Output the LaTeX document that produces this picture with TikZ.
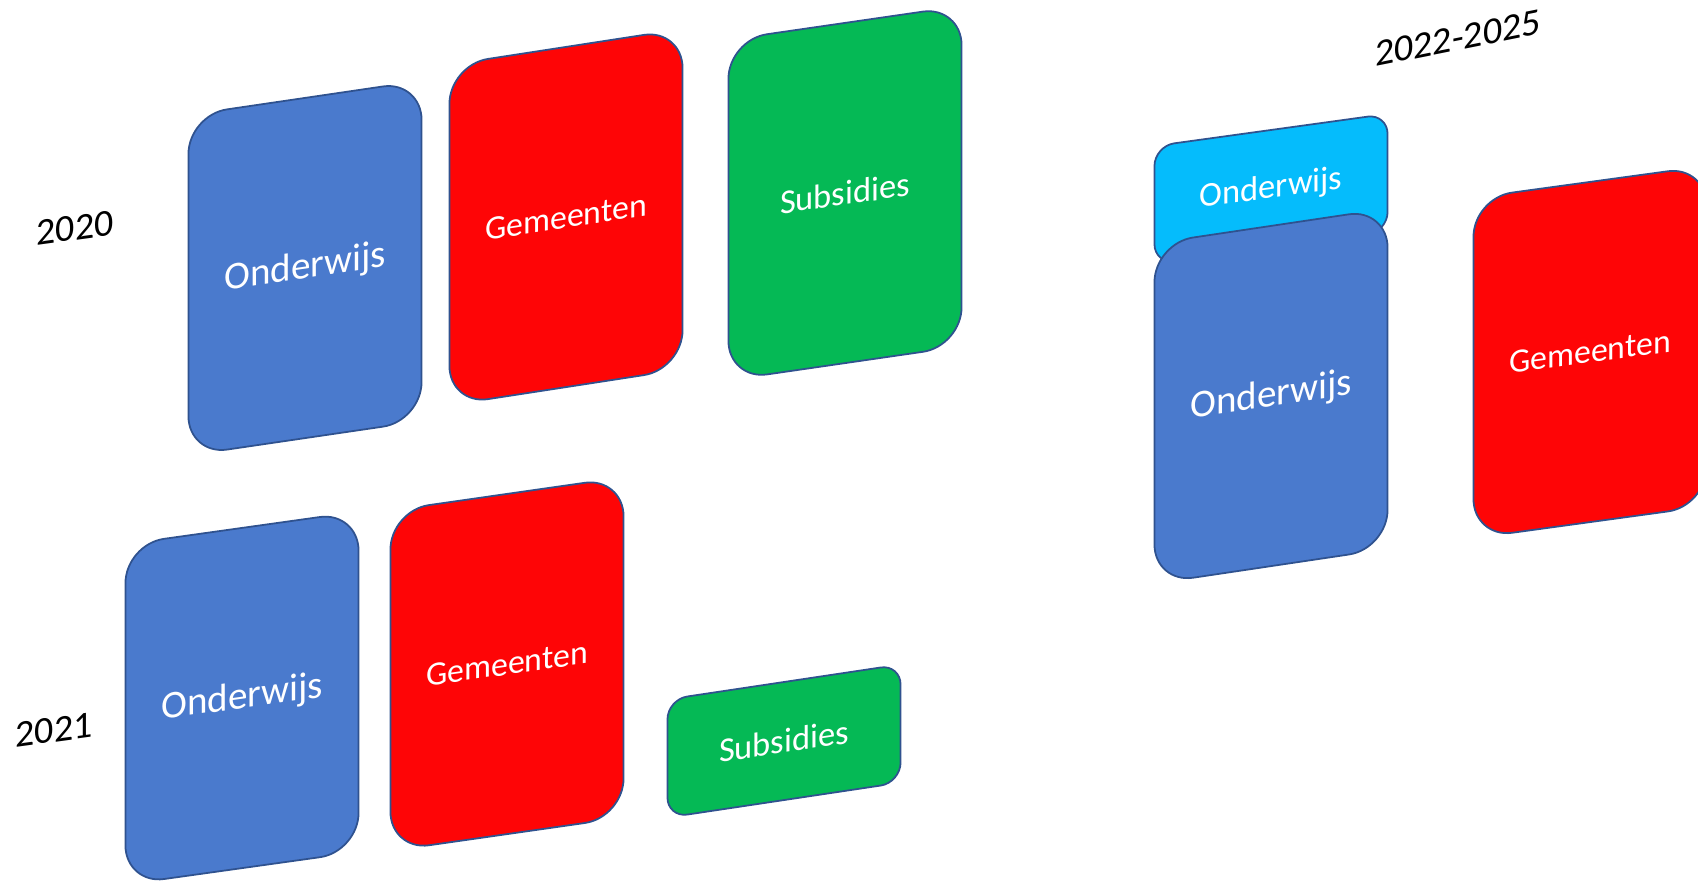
\documentclass[tikz,border=0pt]{standalone}
\usepackage{fontspec}
\setmainfont{Carlito}
\definecolor{onderwijsblue}{HTML}{4A7ACD}
\definecolor{onderwijslight}{HTML}{05BCFC}
\definecolor{gemeentenred}{HTML}{FE0506}
\definecolor{subsidiesgreen}{HTML}{05B955}
\definecolor{cardedge}{HTML}{2F528F}
\begin{document}
\begin{tikzpicture}[x=0.01cm,y=-0.01cm,
  card/.style={draw=cardedge,line width=0.5pt,text=white,inner sep=0pt,
    minimum width=2.33cm,transform shape},
  tallcard/.style={card,minimum height=3.40cm,rounded corners=0.39cm},
  shortcard/.style={card,minimum height=1.18cm,rounded corners=0.2cm},
  yearlabel/.style={inner sep=0pt,transform shape,font=\fontsize{10.8}{13}\selectfont}]
\useasboundingbox (0,0) rectangle (1698,881);

% Year 2020
\begin{scope}[shift={(75,228)},yslant=0.136]
\node[yearlabel] (y2020) at (0,0) {2020};
\end{scope}

% Onderwijs 2020
\begin{scope}[shift={(305,268)},yslant=0.147]
\node[tallcard,fill=onderwijsblue,font=\fontsize{11.1}{13}\selectfont] (ond2020) at (0,0) {Onderwijs};
\end{scope}

% Gemeenten 2020
\begin{scope}[shift={(566,217)},yslant=0.154]
\node[tallcard,fill=gemeentenred,font=\fontsize{9.6}{12}\selectfont] (gem2020) at (0,0) {Gemeenten};
\end{scope}

% Subsidies 2020
\begin{scope}[shift={(845,193)},yslant=0.145]
\node[tallcard,fill=subsidiesgreen,font=\fontsize{9.8}{12}\selectfont] (sub2020) at (0,0) {Subsidies};
\end{scope}

% Year 2021
\begin{scope}[shift={(54,730)},yslant=0.136]
\node[yearlabel] (y2021) at (0,0) {2021};
\end{scope}

% Onderwijs 2021
\begin{scope}[shift={(242,698)},yslant=0.14]
\node[tallcard,fill=onderwijsblue,font=\fontsize{11.1}{13}\selectfont] (ond2021) at (0,0) {Onderwijs};
\end{scope}

% Gemeenten 2021
\begin{scope}[shift={(507,664)},yslant=0.143]
\node[tallcard,fill=gemeentenred,font=\fontsize{9.6}{12}\selectfont] (gem2021) at (0,0) {Gemeenten};
\end{scope}

% Subsidies 2021 (small)
\begin{scope}[shift={(784,741)},yslant=0.15]
\node[shortcard,fill=subsidiesgreen,font=\fontsize{9.8}{12}\selectfont] (sub2021) at (0,0) {Subsidies};
\end{scope}

% Years 2022-2025
\begin{scope}[shift={(1458,38)},yslant=0.2]
\node[yearlabel] (y2022) at (0,0) {2022-2025};
\end{scope}

% Onderwijs 2022 (extra, behind)
\begin{scope}[shift={(1271,189)},yslant=0.138]
\node[shortcard,fill=onderwijslight,font=\fontsize{9.8}{12}\selectfont] (extra2022) at (0,0) {Onderwijs};
\end{scope}

% Onderwijs 2022
\begin{scope}[shift={(1271,396)},yslant=0.149]
\node[tallcard,fill=onderwijsblue,font=\fontsize{11.1}{13}\selectfont] (ond2022) at (0,0) {Onderwijs};
\end{scope}

% Gemeenten 2022
\begin{scope}[shift={(1590,352)},yslant=0.137]
\node[tallcard,fill=gemeentenred,font=\fontsize{9.6}{12}\selectfont] (gem2022) at (0,0) {Gemeenten};
\end{scope}
\end{tikzpicture}
\end{document}
